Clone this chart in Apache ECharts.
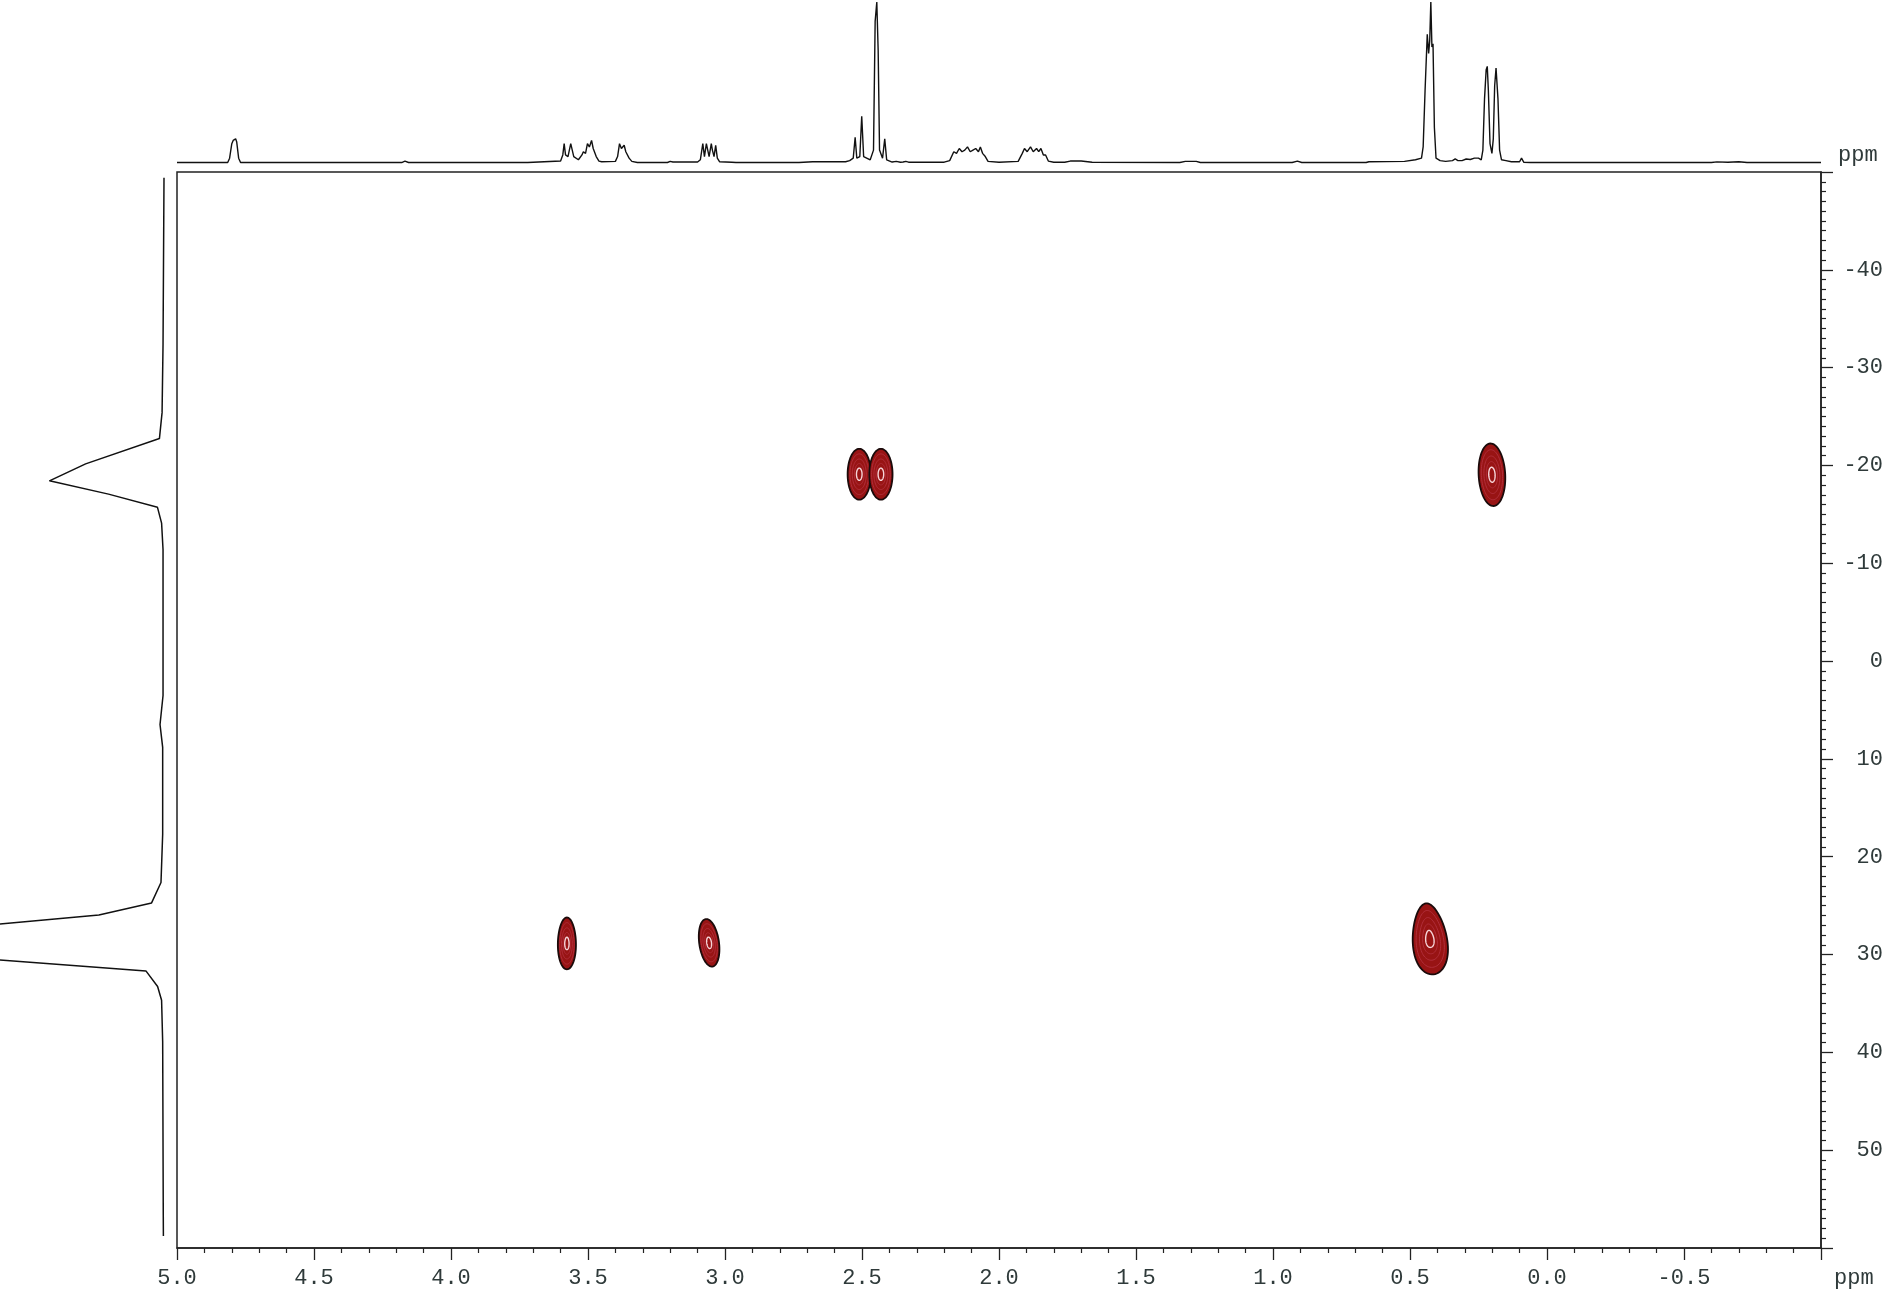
<!DOCTYPE html>
<html><head><meta charset="utf-8">
<script src="https://cdn.jsdelivr.net/npm/echarts@6/dist/echarts.min.js"></script>
<style>html,body{margin:0;padding:0;background:#fff}#c{width:1890px;height:1296px}</style>
</head><body><div id="c"></div>
<script>
// 1H projection (top trace): chemical shift (ppm) and relative intensity (%)
const protonPpm = [5.00,4.96,4.955,4.95,4.815,4.808,4.800,4.795,4.790,4.786,4.782,4.775,4.768,4.18,4.168,4.155,3.72,3.715,
3.60,3.592,3.587,3.582,3.573,3.563,3.558,3.552,3.535,3.522,3.517,3.509,3.502,3.495,3.487,3.481,3.476,3.470,3.46,3.45,
3.40,3.392,3.385,3.378,3.368,3.362,3.357,3.350,3.34,3.32,3.21,3.20,3.19,3.10,3.09,3.081,3.075,3.068,3.062,3.058,3.050,3.046,3.040,3.034,3.028,3.02,2.975,2.968,2.96,
2.745,2.738,2.73,2.68,2.56,2.545,2.532,2.525,2.519,2.508,2.501,2.494,2.470,2.458,2.452,2.446,2.441,2.436,2.425,2.417,2.410,2.39,2.375,2.36,2.35,2.34,2.33,
2.20,2.18,2.165,2.155,2.145,2.135,2.125,2.115,2.105,2.095,2.085,2.075,2.068,2.06,2.05,2.04,2.00,
1.93,1.915,1.907,1.897,1.885,1.875,1.863,1.855,1.847,1.838,1.830,1.82,1.80,1.76,1.74,1.70,1.66,1.34,1.32,1.28,1.265,0.93,0.911,0.895,
0.66,0.65,0.52,0.48,0.458,0.452,0.445,0.437,0.432,0.428,0.424,0.420,0.416,0.411,0.405,0.39,0.37,0.345,0.335,0.325,0.31,0.295,0.28,0.265,
0.25,0.24,0.234,0.228,0.222,0.218,0.214,0.208,0.201,0.196,0.191,0.186,0.183,0.179,0.173,0.166,0.15,0.13,0.10,0.093,0.085,0.06,-0.60,-0.62,-0.66,-0.70,-0.73,-1.0];
const protonInt = [0.3,0.3,1.0,0.3,0.3,3,12,14,13,15,13,3,0.3,0.3,1.2,0.3,0.3,0.8,
1.2,5,12,5,4,12,13,4,2,5,7,6,12,10,14,9,9,4,1.2,0.8,
1,4,12,9,11,7,8,3,1,0.3,0.3,1.0,0.6,0.6,2,12,4,12,11,4,12,8,4,11,3,0.8,0.5,1.2,0.3,
0.3,1,0.3,0.8,0.8,1.5,3,16,3,4,29,4,2,8,88,100,70,8,3,15,2,0.6,1,0.5,0.6,1.0,0.5,
0.5,1.5,7,6,9,7,8,10,7,8,9,7,10,6,4,1,0.5,
1,6,9,7,10,7,9,7,9,5,5,1.2,0.5,0.5,1.2,1.2,0.5,0.3,1.0,1.0,0.3,0.3,1.2,0.3,
0.3,0.8,1,2,3,10,45,80,68,76,100,72,74,22,3,1.5,1,1.5,2.5,1.5,1.5,2.5,2.2,3,
3,2,8,40,58,60,45,12,6,15,48,59,60,40,8,2,1.5,0.8,0.8,3,0.5,0.3,0.3,0.7,0.5,0.8,0.3,0.3];

// 13C projection (left trace): chemical shift (ppm) and intensity
const carbonPpm = [-49.4,-32.4,-25.4,-22.75,-20.16,-18.43,-17.07,-15.72,-14.11,-11.4,2.66,3.52,6.48,8.82,17.7,22.63,24.72,25.96,28.92,31.67,33.26,34.68,38.91,56.62,58.77];
const carbonInt = [0,0.8,1.6,3.8,65,95,46,5.4,2,0.8,0.8,0.8,3.3,1.1,1.1,2.5,10.3,54,316,15,5.3,2,1.1,0.6,0.5];

// HSQC cross peaks
const peakH = [2.510, 2.431, 0.201, 3.577, 3.058, 0.428];
const peakC = [-19.1, -19.1, -19.05, 28.86, 28.8, 28.4];
const peakWidthH = [0.085, 0.085, 0.097, 0.066, 0.072, 0.125];
const peakWidthC = [5.2, 5.2, 6.4, 5.3, 4.9, 7.3];
const peakTilt = [0, 0, -3, 0, -8, -6];
const peakEgg = [0, 0, 0, 0.05, 0, 0.18];

const FONT = 'Liberation Mono';
const LABEL = '#2f3a3a';

const chart = echarts.init(document.getElementById('c'), null, {renderer: 'canvas'});

function renderContour(params, api) {
  const c = api.coord([api.value(0), api.value(1)]);
  const s = api.size([api.value(2), api.value(3)]);
  const rx = Math.abs(s[0]) / 2, ry = Math.abs(s[1]) / 2;
  const a = api.value(4) * Math.PI / 180, egg = api.value(5);
  const levels = [1, 0.8, 0.6, 0.42, 0.24];
  const children = levels.map(function (k, i) {
    const pts = [];
    for (let j = 0; j < 72; j++) {
      const t = j / 72 * 2 * Math.PI;
      const sy = Math.sin(t);
      const x0 = rx * k * Math.cos(t) * (1 + egg * sy);
      const y0 = ry * k * sy;
      pts.push([c[0] + x0 * Math.cos(a) - y0 * Math.sin(a), c[1] + x0 * Math.sin(a) + y0 * Math.cos(a)]);
    }
    return {
      type: 'polygon', shape: {points: pts},
      style: i === 0 ? {fill: '#981414', stroke: '#1b0b0b', lineWidth: 1.8}
        : {fill: 'none', stroke: i === levels.length - 1 ? '#f6d4d8' : '#b02e3a', lineWidth: i === levels.length - 1 ? 1.4 : 1}
    };
  });
  return {type: 'group', children: children};
}

const option = {
  backgroundColor: '#fff',
  animation: false,
  grid: [
    {left: 177, top: 172, width: 1644, height: 1076, show: true, borderColor: '#222', borderWidth: 1.5, backgroundColor: 'transparent'},
    {left: 177, top: 2, width: 1644, height: 161},
    {left: 0, top: 172, width: 164, height: 1076}
  ],
  xAxis: [
    {gridIndex: 0, type: 'value', min: -1, max: 5, interval: 0.5, inverse: true,
      axisLine: {show: true, onZero: false, lineStyle: {color: '#222', width: 1.5}},
      axisTick: {show: true, inside: false, length: 12, lineStyle: {color: '#222', width: 1.3}},
      minorTick: {show: true, splitNumber: 5, length: 5, lineStyle: {color: '#222', width: 1.2}},
      splitLine: {show: false}, minorSplitLine: {show: false},
      axisLabel: {margin: 19, fontFamily: FONT, fontSize: 22, color: LABEL,
        formatter: function (v) { return Math.abs(v + 1) < 1e-9 ? '' : v.toFixed(1); }}},
    {gridIndex: 1, type: 'value', min: -1, max: 5, inverse: true, show: false},
    {gridIndex: 2, type: 'value', min: 0, max: 136, inverse: true, show: false}
  ],
  yAxis: [
    {gridIndex: 0, type: 'value', min: -50, max: 60, interval: 10, inverse: true, position: 'right',
      axisLine: {show: true, onZero: false, lineStyle: {color: '#222', width: 1.5}},
      axisTick: {show: true, inside: false, length: 12, lineStyle: {color: '#222', width: 1.3}},
      minorTick: {show: true, splitNumber: 10, length: 5, lineStyle: {color: '#222', width: 1.2}},
      splitLine: {show: false}, minorSplitLine: {show: false},
      axisLabel: {margin: 62, align: 'right', fontFamily: FONT, fontSize: 22, color: LABEL,
        formatter: function (v) { return (v === -50 || v === 60) ? '' : String(v); }}},
    {gridIndex: 1, type: 'value', min: 0, max: 100, show: false},
    {gridIndex: 2, type: 'value', min: -50, max: 60, inverse: true, show: false}
  ],
  series: [
    {type: 'line', xAxisIndex: 1, yAxisIndex: 1, symbol: 'none', silent: true, clip: false,
      lineStyle: {color: '#111', width: 1.4},
      data: protonPpm.map(function (p, i) { return [p, protonInt[i]]; })},
    {type: 'line', xAxisIndex: 2, yAxisIndex: 2, symbol: 'none', silent: true, clip: true,
      lineStyle: {color: '#111', width: 1.5},
      data: carbonPpm.map(function (p, i) { return [carbonInt[i], p]; })},
    {type: 'custom', xAxisIndex: 0, yAxisIndex: 0, silent: true, clip: true,
      renderItem: renderContour,
      data: peakH.map(function (h, i) { return [h, peakC[i], peakWidthH[i], peakWidthC[i], peakTilt[i], peakEgg[i]]; })}
  ],
  graphic: [
    {type: 'text', left: 1838, top: 144, style: {text: 'ppm', font: '22px "Liberation Mono"', fill: LABEL}},
    {type: 'text', left: 1834, top: 1267, style: {text: 'ppm', font: '22px "Liberation Mono"', fill: LABEL}}
  ]
};
chart.setOption(option);
</script>
</body></html>
